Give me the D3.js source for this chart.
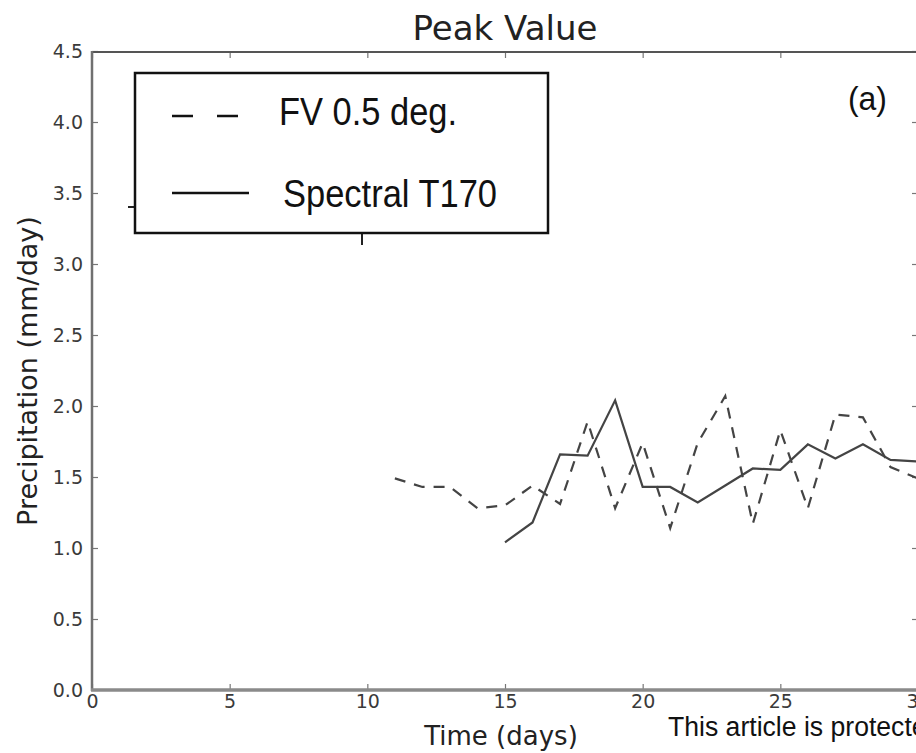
<!DOCTYPE html>
<html>
<head>
<meta charset="utf-8">
<script src="https://cdnjs.cloudflare.com/ajax/libs/d3/7.8.5/d3.min.js"></script>
<style>
  body { margin: 0; background: #fff; }
  svg { display: block; }
</style>
</head>
<body>
<svg width="916" height="753"></svg>
<script>
var xTicks = [0, 5, 10, 15, 20, 25, 30];
var yTicks = [0, 0.5, 1, 1.5, 2, 2.5, 3, 3.5, 4, 4.5];

var fvDays = [11, 12, 13, 14, 15, 16, 17, 18, 19, 20, 21, 22, 23, 24, 25, 26, 27, 28, 29, 30];
var fvValues = [1.49, 1.43, 1.43, 1.28, 1.30, 1.44, 1.31, 1.89, 1.28, 1.74, 1.14, 1.74, 2.07, 1.17, 1.83, 1.28, 1.94, 1.92, 1.57, 1.49];

var specDays = [15, 16, 17, 18, 19, 20, 21, 22, 23, 24, 25, 26, 27, 28, 29, 30];
var specValues = [1.04, 1.18, 1.66, 1.65, 2.04, 1.43, 1.43, 1.32, 1.44, 1.56, 1.55, 1.73, 1.63, 1.73, 1.62, 1.61];

var legendLabels = ["FV 0.5 deg.", "Spectral T170"];

var svg = d3.select("svg");

var x = d3.scaleLinear().domain([0, 30]).range([92, 918]);
var y = d3.scaleLinear().domain([0, 4.5]).range([690, 51]);

var tickFont = "DejaVu Sans";

// inward ticks on all four sides, matplotlib style
var bottomAxis = svg.append("g")
                    .attr("transform", "translate(0,690)")
                    .call(d3.axisBottom(x).tickValues(xTicks).tickFormat(d3.format("d"))
                            .tickSizeInner(-6).tickSizeOuter(0).tickPadding(5));

var topAxis = svg.append("g")
                 .attr("transform", "translate(0,52)")
                 .call(d3.axisTop(x).tickValues(xTicks).tickFormat("")
                         .tickSizeInner(-6).tickSizeOuter(0));

var leftAxis = svg.append("g")
                  .attr("transform", "translate(92,0)")
                  .call(d3.axisLeft(y).tickValues(yTicks).tickFormat(d3.format(".1f"))
                          .tickSizeInner(-6).tickSizeOuter(0).tickPadding(9));

var rightAxis = svg.append("g")
                   .attr("transform", "translate(918,0)")
                   .call(d3.axisRight(y).tickValues(yTicks).tickFormat("")
                           .tickSizeInner(-6).tickSizeOuter(0));

svg.selectAll(".domain").remove();
svg.selectAll(".tick line").attr("stroke", "#777").attr("stroke-width", 1.2);
svg.selectAll(".tick text")
   .attr("font-family", tickFont)
   .attr("font-size", 19)
   .attr("fill", "#3a3a3a");

// spines
svg.append("line").attr("x1", 92).attr("x2", 918).attr("y1", 52).attr("y2", 52)
   .attr("stroke", "#555").attr("stroke-width", 2);
svg.append("line").attr("x1", 918).attr("x2", 918).attr("y1", 52).attr("y2", 690)
   .attr("stroke", "#555").attr("stroke-width", 2);
svg.append("line").attr("x1", 92).attr("x2", 92).attr("y1", 51).attr("y2", 691)
   .attr("stroke", "#707070").attr("stroke-width", 2.5);
svg.append("line").attr("x1", 91).attr("x2", 918).attr("y1", 690).attr("y2", 690)
   .attr("stroke", "#8a8a8a").attr("stroke-width", 3.5);

// series
var line = d3.line()
             .x(function(d) { return x(d[0]); })
             .y(function(d) { return y(d[1]); });

svg.append("path")
   .datum(d3.zip(fvDays, fvValues))
   .attr("d", line)
   .attr("fill", "none")
   .attr("stroke", "#444")
   .attr("stroke-width", 2.2)
   .attr("stroke-dasharray", "11,9");

svg.append("path")
   .datum(d3.zip(specDays, specValues))
   .attr("d", line)
   .attr("fill", "none")
   .attr("stroke", "#444")
   .attr("stroke-width", 2.2);

// stray tick marks peeking out from under the legend
svg.append("line").attr("x1", 128).attr("x2", 135).attr("y1", 207).attr("y2", 207)
   .attr("stroke", "#222").attr("stroke-width", 2);
svg.append("line").attr("x1", 362).attr("x2", 362).attr("y1", 233).attr("y2", 245)
   .attr("stroke", "#222").attr("stroke-width", 2);

// legend
var legend = svg.append("g");
legend.append("rect")
      .attr("x", 135).attr("y", 73)
      .attr("width", 413).attr("height", 160)
      .attr("fill", "#fff")
      .attr("stroke", "#111")
      .attr("stroke-width", 2.5);

legend.append("line").attr("x1", 172).attr("x2", 240).attr("y1", 116).attr("y2", 116)
      .attr("stroke", "#111").attr("stroke-width", 2.5).attr("stroke-dasharray", "21,24");
legend.append("line").attr("x1", 172).attr("x2", 249).attr("y1", 193).attr("y2", 193)
      .attr("stroke", "#111").attr("stroke-width", 2.5);

legend.append("text")
      .attr("x", 279).attr("y", 125)
      .attr("font-family", "Liberation Sans Narrow, Liberation Sans, Arial, sans-serif")
      .attr("font-size", 38)
      .attr("textLength", 178).attr("lengthAdjust", "spacingAndGlyphs")
      .attr("fill", "#111")
      .text(legendLabels[0]);
legend.append("text")
      .attr("x", 283).attr("y", 207)
      .attr("font-family", "Liberation Sans Narrow, Liberation Sans, Arial, sans-serif")
      .attr("font-size", 38)
      .attr("textLength", 214).attr("lengthAdjust", "spacingAndGlyphs")
      .attr("fill", "#111")
      .text(legendLabels[1]);

svg.append("text")
   .attr("x", 848).attr("y", 110)
   .attr("font-family", "Liberation Sans, Arial, sans-serif")
   .attr("font-size", 33)
   .attr("textLength", 39).attr("lengthAdjust", "spacingAndGlyphs")
   .attr("fill", "#111")
   .text("(a)");

// titles
svg.append("text")
   .attr("x", 505).attr("y", 40)
   .attr("text-anchor", "middle")
   .attr("font-family", tickFont)
   .attr("font-size", 34)
   .attr("fill", "#222")
   .text("Peak Value");

svg.append("text")
   .attr("x", 501).attr("y", 745)
   .attr("text-anchor", "middle")
   .attr("font-family", tickFont)
   .attr("font-size", 26)
   .attr("fill", "#222")
   .text("Time (days)");

svg.append("text")
   .attr("transform", "translate(37,371) rotate(-90)")
   .attr("text-anchor", "middle")
   .attr("font-family", tickFont)
   .attr("font-size", 27)
   .attr("fill", "#222")
   .text("Precipitation (mm/day)");

svg.append("text")
   .attr("transform", "translate(668,736) scale(0.95,1)")
   .attr("font-family", "Liberation Sans, Arial, sans-serif")
   .attr("font-size", 28)
   .attr("fill", "#111")
   .text("This article is protected by copyright. All rights reserved.");
</script>
</body>
</html>
